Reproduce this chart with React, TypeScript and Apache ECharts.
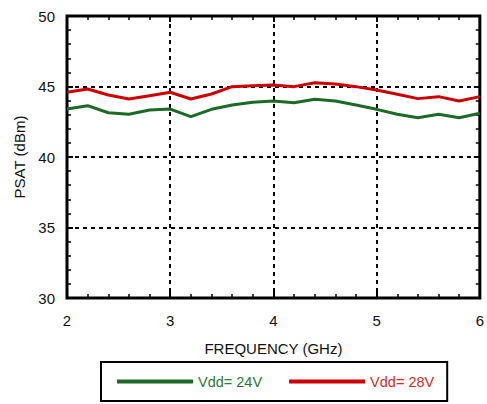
import React, { useEffect, useRef } from "react";
import * as echarts from "echarts";

const freq = [2.0, 2.2, 2.4, 2.6, 2.8, 3.0, 3.2, 3.4, 3.6, 3.8, 4.0, 4.2, 4.4, 4.6, 4.8, 5.0, 5.2, 5.4, 5.6, 5.8, 6.0];
const vdd24 = [43.4, 43.64, 43.14, 43.03, 43.33, 43.4, 42.86, 43.38, 43.69, 43.88, 43.97, 43.85, 44.09, 43.97, 43.69, 43.38, 43.03, 42.79, 43.03, 42.79, 43.1];
const vdd28 = [44.59, 44.82, 44.4, 44.11, 44.35, 44.59, 44.11, 44.47, 44.99, 45.05, 45.1, 44.99, 45.27, 45.18, 44.99, 44.75, 44.45, 44.14, 44.28, 43.97, 44.28];
const seriesNames = ["Vdd= 24V", "Vdd= 28V"];
const lineColors = ["#1b6b27", "#cc0000"];
const textColors = ["#2a7a34", "#d42a2a"];

const FONT = "Liberation Sans, Arial, Helvetica, sans-serif";

export default function App() {
  const ref = useRef<HTMLDivElement>(null);
  useEffect(() => {
    if (!ref.current) return;
    document.body.style.margin = "0";
    document.body.style.overflow = "hidden";
    const chart = echarts.init(ref.current, undefined, { renderer: "svg" });
    const dashed = { show: true, lineStyle: { color: "#000", width: 2, type: [4, 4] as any } };
    const hiddenAxisCommon = {
      axisLabel: { show: false },
      splitLine: { show: false },
      axisLine: { show: false },
    };
    chart.setOption({
      animation: false,
      textStyle: { fontFamily: FONT },
      grid: {
        left: 67, top: 16, right: 3, bottom: 106,
        show: true, borderColor: "#000", borderWidth: 3, backgroundColor: "transparent",
      },
      legend: {
        left: 101, top: 362,
        padding: [12, 13, 12, 16],
        borderColor: "#000", borderWidth: 2,
        itemWidth: 76, itemHeight: 4, itemGap: 27,
        icon: "rect",
        textStyle: { fontSize: 14.5, fontFamily: FONT },
        data: seriesNames.map((n, i) => ({ name: n, textStyle: { color: textColors[i] } })),
      },
      xAxis: [
        {
          type: "value", min: 2, max: 6, interval: 1,
          name: "FREQUENCY (GHz)", nameLocation: "middle", nameGap: 43,
          nameTextStyle: { fontSize: 15, color: "#111", fontFamily: FONT },
          axisLine: { show: false },
          axisTick: { show: true, inside: true, length: 6, lineStyle: { color: "#000", width: 2 } },
          minorTick: { show: true, splitNumber: 5, length: 4, lineStyle: { color: "#000", width: 1.5 } },
          axisLabel: { fontSize: 15, color: "#111", margin: 15, fontFamily: FONT },
          splitLine: dashed,
        },
        {
          type: "value", min: 2, max: 6, interval: 1, position: "top",
          ...hiddenAxisCommon,
          axisTick: { show: true, inside: true, length: 6, lineStyle: { color: "#000", width: 2 } },
          minorTick: { show: true, splitNumber: 5, length: 4, lineStyle: { color: "#000", width: 1.5 } },
        },
      ],
      yAxis: [
        {
          type: "value", min: 30, max: 50, interval: 5,
          name: "PSAT (dBm)", nameLocation: "middle", nameGap: 38,
          nameTextStyle: { fontSize: 15, color: "#111", fontFamily: FONT },
          axisLine: { show: false },
          axisTick: { show: true, inside: true, length: 6, lineStyle: { color: "#000", width: 2 } },
          minorTick: { show: true, splitNumber: 5, length: 4, lineStyle: { color: "#000", width: 1.5 } },
          axisLabel: { fontSize: 15, color: "#111", margin: 12, fontFamily: FONT },
          splitLine: dashed,
        },
        {
          type: "value", min: 30, max: 50, interval: 5, position: "right",
          ...hiddenAxisCommon,
          axisTick: { show: true, inside: true, length: 6, lineStyle: { color: "#000", width: 2 } },
          minorTick: { show: true, splitNumber: 5, length: 4, lineStyle: { color: "#000", width: 1.5 } },
        },
      ],
      series: [vdd24, vdd28].map((vals, i) => ({
        name: seriesNames[i],
        type: "line",
        data: freq.map((f, j) => [f, vals[j]]),
        showSymbol: false,
        symbol: "none",
        lineStyle: { color: lineColors[i], width: 3 },
        itemStyle: { color: lineColors[i] },
        z: 3,
      })),
    });
    return () => chart.dispose();
  }, []);
  return <div ref={ref} style={{ position: "absolute", left: 0, top: 0, width: 487, height: 404 }} />;
}
